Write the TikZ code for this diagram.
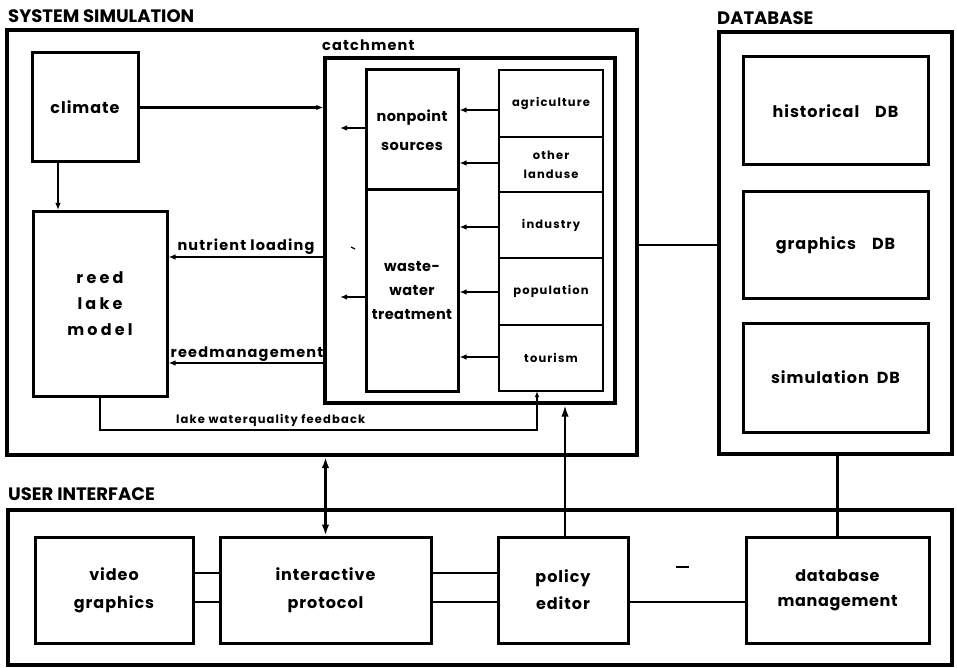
\documentclass[tikz,border=0pt]{standalone}
\usepackage{fontspec}
\setmainfont{Poppins}
\usetikzlibrary{arrows.meta,calc}
\newcommand\bigtxt{\fontsize{16}{26}\selectfont\bfseries\addfontfeatures{LetterSpace=6}}
\newcommand\widetxt{\fontsize{16}{26}\selectfont\bfseries\addfontfeatures{LetterSpace=20}}
\newcommand\colltxt{\fontsize{14.5}{24}\selectfont\bfseries\addfontfeatures{LetterSpace=3}}
\newcommand\midtxt{\fontsize{14.5}{16}\selectfont\bfseries\addfontfeatures{LetterSpace=8}}
\newcommand\smalltxt{\fontsize{11.5}{19}\selectfont\bfseries\addfontfeatures{LetterSpace=10}}
\newcommand\titletxt{\fontsize{18}{20}\selectfont\bfseries}
\tikzset{
  outerbox/.style={draw, rectangle, line width=4.2pt, inner sep=0pt},
  bigbox/.style={draw, rectangle, line width=3pt, inner sep=0pt, align=center, font=\bigtxt},
  smallbox/.style={draw, rectangle, line width=2.8pt, inner sep=0pt, align=center, font=\smalltxt},
  titlelabel/.style={anchor=base west, inner sep=0pt, font=\titletxt},
  linelabel/.style={anchor=base, inner sep=0pt, font=\midtxt},
  conn/.style={line width=2.8pt},
  thinconn/.style={line width=1.7pt},
  arr/.style={conn, -{Latex[length=7pt,width=5.5pt]}},
  thinarr/.style={thinconn, -{Latex[length=6pt,width=4.5pt]}},
  bigarr/.style={conn, -{Latex[length=12pt,width=7.5pt]}},
  dblarr/.style={conn, {Latex[length=11pt,width=7.5pt]}-{Latex[length=11pt,width=7.5pt]}},
}
\begin{document}
\begin{tikzpicture}[x=1pt, y=-1pt]
\useasboundingbox (0,0) rectangle (957,668);

% ---------- SYSTEM SIMULATION ----------
\node[outerbox, minimum width=630pt, minimum height=425pt] (sim) at (322,242.5) {};
\node[titlelabel] (simT) at (8,23) {SYSTEM SIMULATION};

\node[bigbox, minimum width=106pt, minimum height=109pt] (clim) at (85,107.5) {climate};
\node[bigbox, minimum width=134pt, minimum height=185pt, font=\widetxt] (reed) at (100,304) {reed\\lake\\model};

\node[draw, rectangle, line width=3.4pt, inner sep=0pt, minimum width=290pt, minimum height=345pt] (catch) at (470,230.5) {};
\node[anchor=base west, inner sep=0pt, font=\midtxt] (catchT) at (322,51) {catchment};

\node[bigbox, minimum width=92pt, minimum height=120pt, font=\fontsize{14.5}{29}\selectfont\bfseries\addfontfeatures{LetterSpace=3}] (nps) at (412,130) {nonpoint\\sources};
\node[bigbox, minimum width=92pt, minimum height=201pt, font=\colltxt] (wwt) at (412,290.5) {waste-\\water\\treatment};

\node[smallbox, minimum width=104pt, minimum height=67pt] (agr) at (551,103.5) {agriculture};
\node[smallbox, minimum width=104pt, minimum height=55pt] (olu) at (551,164.5) {other\\landuse};
\node[smallbox, minimum width=104pt, minimum height=66pt] (ind) at (551,225) {industry};
\node[smallbox, minimum width=104pt, minimum height=67pt] (pop) at (551,291.5) {population};
\node[smallbox, minimum width=104pt, minimum height=66pt] (tour) at (551,358) {tourism};

% sources -> nonpoint / wastewater
\draw[arr] (agr.west |- 0,110) -- (nps.east |- 0,110);
\draw[arr] (olu.west |- 0,163) -- (nps.east |- 0,163);
\draw[arr] (ind.west |- 0,227) -- (wwt.east |- 0,227);
\draw[arr] (pop.west |- 0,292) -- (wwt.east |- 0,292);
\draw[arr] (tour.west |- 0,357) -- (wwt.east |- 0,357);

% outputs of nonpoint / wastewater
\coordinate (npsOut) at (340,128);
\coordinate (wwtOut) at (340,297);
\draw[arr] (nps.west |- npsOut) -- (npsOut);
\draw[arr] (wwt.west |- wwtOut) -- (wwtOut);
\draw[line width=1.2pt] (351,247) -- (355,249);

% climate connections
\draw[arr] (clim.east) -- (catch.west |- clim.east);
\coordinate (climFoot) at (58,162);
\draw[arr] (climFoot) -- (climFoot |- reed.north);

% nutrient loading / reedmanagement
\draw[arr] (catch.west |- 0,257) -- (reed.east |- 0,257);
\node[linelabel] (nlT) at (246,250) {nutrient loading};
\draw[arr] (catch.west |- 0,363) -- (reed.east |- 0,363);
\node[linelabel] (rmT) at (247,357) {reedmanagement};

% feedback
\coordinate (fbIn) at (537,391);
\draw[thinarr] (reed.south) |- (537,430) -- (fbIn);
\node[anchor=base west, inner sep=0pt, font=\smalltxt] (fbT) at (176,423) {lake waterquality feedback};

% ---------- DATABASE ----------
\node[outerbox, minimum width=233pt, minimum height=422pt] (db) at (835.5,243) {};
\node[titlelabel] (dbT) at (717,25) {DATABASE};
\node[bigbox, minimum width=185pt, minimum height=108pt] (hist) at (835.5,111) {historical\quad DB};
\node[bigbox, minimum width=185pt, minimum height=106pt] (gra) at (835.5,245) {graphics\quad DB};
\node[bigbox, minimum width=185pt, minimum height=109pt] (simdb) at (835.5,377.5) {simulation\enspace DB};

\draw[conn] (sim.east |- 0,245) -- (db.west |- 0,245);

% ---------- USER INTERFACE ----------
\node[outerbox, minimum width=944pt, minimum height=155pt] (ui) at (480,587.5) {};
\node[titlelabel] (uiT) at (8,500) {USER INTERFACE};

\node[bigbox, minimum width=158pt, minimum height=106pt, font=\fontsize{16}{28}\selectfont\bfseries\addfontfeatures{LetterSpace=6}] (vid) at (114,590) {video\\graphics};
\node[bigbox, minimum width=211pt, minimum height=106pt, font=\fontsize{16}{28}\selectfont\bfseries\addfontfeatures{LetterSpace=6}] (inter) at (325.5,590) {interactive\\protocol};
\node[bigbox, minimum width=130pt, minimum height=106pt, font=\fontsize{16}{27}\selectfont\bfseries\addfontfeatures{LetterSpace=6}] (pol) at (563,590) {policy\\editor};
\node[bigbox, minimum width=183pt, minimum height=106pt, font=\fontsize{16}{25}\selectfont\bfseries\addfontfeatures{LetterSpace=4}] (dbm) at (837.5,590) {database\\management};

\draw[conn] (vid.east |- 0,573) -- (inter.west |- 0,573);
\draw[conn] (vid.east |- 0,602) -- (inter.west |- 0,602);
\draw[conn] (inter.east |- 0,573) -- (pol.west |- 0,573);
\draw[conn] (inter.east |- 0,602) -- (pol.west |- 0,602);
\draw[conn] (pol.east |- 0,602) -- (dbm.west |- 0,602);
\draw[line width=1.4pt] (676,567) -- (689,567);

% vertical links
\draw[dblarr] (inter.north) -- (inter.north |- sim.south);
\coordinate (polTop) at (565,537);
\draw[bigarr] (polTop) -- (polTop |- catch.south);
\draw[conn] (dbm.north) -- (dbm.north |- db.south);
\end{tikzpicture}
\end{document}
